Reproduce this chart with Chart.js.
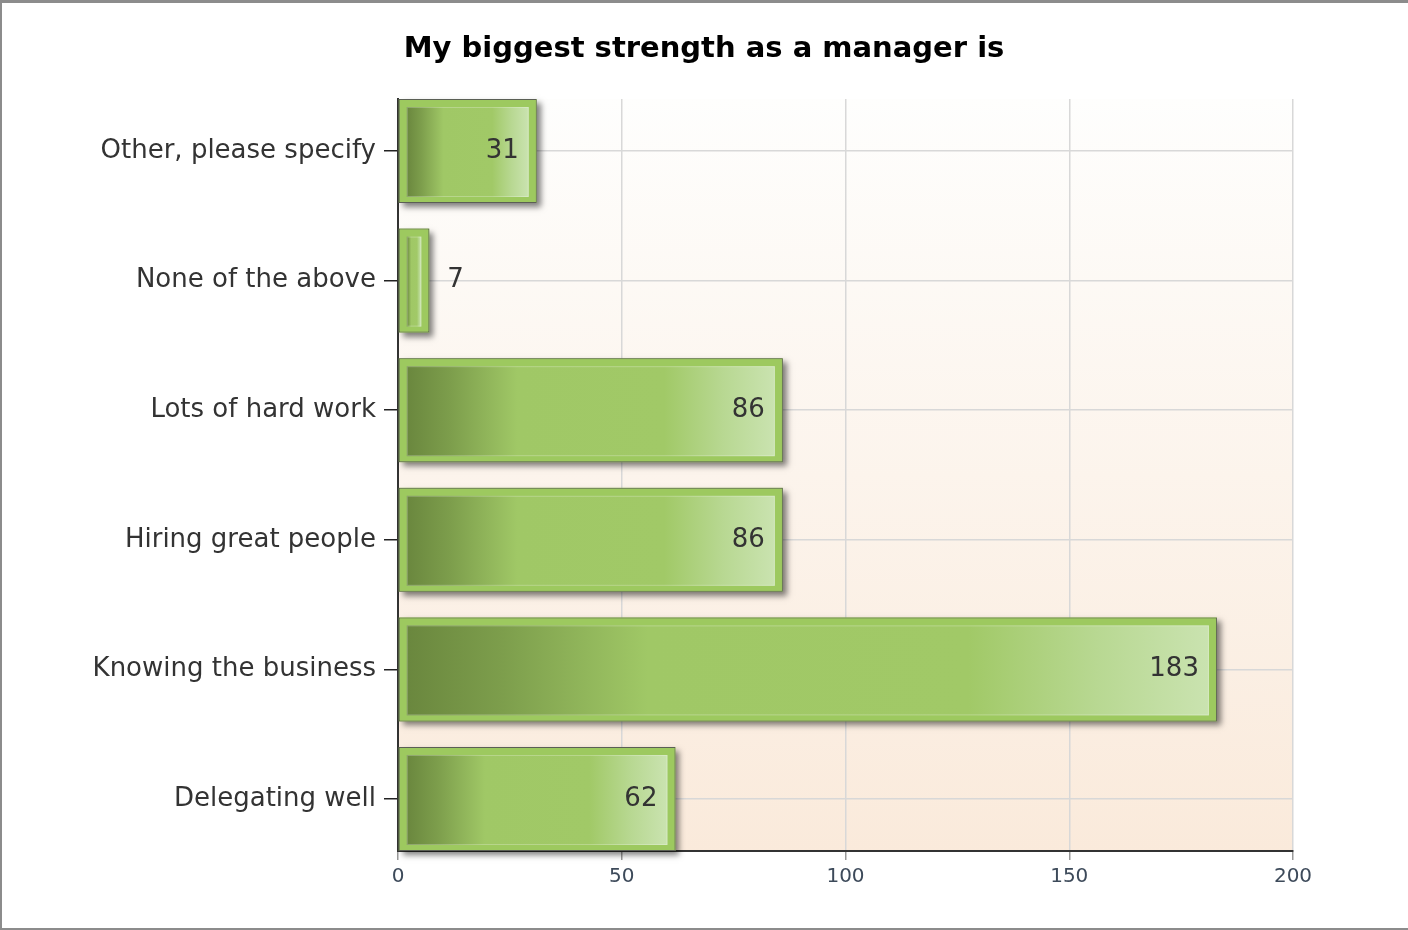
<!DOCTYPE html>
<html>
<head>
<meta charset="utf-8">
<script src="https://cdn.jsdelivr.net/npm/chart.js@4.4.0/dist/chart.umd.min.js"></script>
<style>
  body { margin: 0; background: #fff; }
  #wrap { position: relative; width: 1408px; height: 930px; }
  #frame { position: absolute; left: 0; top: 0; width: 1406px; height: 925px;
    border-top: 3px solid #8c8c8c; border-left: 2px solid #8c8c8c; border-bottom: 2px solid #8c8c8c;
    pointer-events: none; }
</style>
</head>
<body>
<div id="wrap">
  <canvas id="chart-canvas" width="1408" height="930"></canvas>
  <div id="frame"></div>
</div>
<script>
const chartTitle = "My biggest strength as a manager is";
const categories = ["Other, please specify", "None of the above", "Lots of hard work", "Hiring great people", "Knowing the business", "Delegating well"];
const answers = [31, 7, 86, 86, 183, 62];
const xTicks = [0, 50, 100, 150, 200];

const fontFamily = "'DejaVu Sans', Verdana, sans-serif";

// peach background behind the plot
const plotBackground = {
  id: "plotBackground",
  beforeDraw: (chart) => {
    const {ctx, chartArea: a} = chart;
    const grad = ctx.createLinearGradient(0, a.top, 0, a.bottom);
    grad.addColorStop(0, "#fefefd");
    grad.addColorStop(1, "#faeadb");
    ctx.save();
    ctx.fillStyle = grad;
    ctx.fillRect(a.left, a.top, a.right - a.left, a.bottom - a.top);
    ctx.restore();
  }
};

// drop shadow under the bars, inner gradient and value labels on top
const barDecor = {
  id: "barDecor",
  beforeDatasetDraw: (chart, args) => {
    const ctx = chart.ctx;
    ctx.save();
    ctx.shadowColor = "rgba(0,0,0,0.5)";
    ctx.shadowBlur = 6;
    ctx.shadowOffsetX = 4;
    ctx.shadowOffsetY = 4;
    ctx.fillStyle = "#9dc95f";
    args.meta.data.forEach(bar => {
      const p = bar.getProps(["x", "y", "base", "height"], true);
      ctx.fillRect(p.base, p.y - p.height / 2, p.x - p.base, p.height);
    });
    ctx.restore();
  },
  afterDatasetDraw: (chart, args) => {
    const ctx = chart.ctx;
    ctx.save();
    args.meta.data.forEach((bar, i) => {
      const p = bar.getProps(["x", "y", "base", "height"], true);
      const left = p.base + 8;
      const right = p.x - 8;
      const top = p.y - p.height / 2 + 8;
      const bottom = p.y + p.height / 2 - 6;
      if (right > left) {
        const grad = ctx.createLinearGradient(left, 0, right, 0);
        grad.addColorStop(0, "#6a873e");
        grad.addColorStop(0.12, "#7d9e4c");
        grad.addColorStop(0.3, "#a0c866");
        grad.addColorStop(0.7, "#a1c967");
        grad.addColorStop(0.86, "#b8d892");
        grad.addColorStop(1, "#cae3b0");
        ctx.fillStyle = grad;
        ctx.fillRect(left, top, right - left, bottom - top);
        ctx.strokeStyle = "rgba(255,255,255,0.25)";
        ctx.lineWidth = 1;
        ctx.strokeRect(left + 0.5, top + 0.5, right - left - 1, bottom - top - 1);
      }
      // value label
      const text = String(answers[i]);
      ctx.font = "26px " + fontFamily;
      ctx.fillStyle = "#333";
      ctx.textBaseline = "middle";
      const w = ctx.measureText(text).width;
      if (p.x - p.base > w + 40) {
        ctx.textAlign = "right";
        ctx.fillText(text, p.x - 18, p.y);
      } else {
        ctx.textAlign = "left";
        ctx.fillText(text, p.x + 18, p.y);
      }
    });
    ctx.restore();
  }
};

const context = document.getElementById("chart-canvas").getContext("2d");
const makeChart = new Chart(context, {
  type: "bar",
  data: {
    labels: categories,
    datasets: [{
      data: answers,
      backgroundColor: "#9dc95f",
      borderColor: "#5b5f55",
      borderWidth: 1,
      borderSkipped: false,
      barPercentage: 0.8025,
      categoryPercentage: 1
    }]
  },
  options: {
    indexAxis: "y",
    responsive: false,
    animation: false,
    layout: { padding: 0 },
    plugins: {
      legend: { display: false },
      tooltip: { enabled: false },
      title: {
        display: true,
        text: chartTitle,
        color: "#000",
        font: { family: fontFamily, size: 29, weight: "bold" },
        padding: { top: 31.6, bottom: 32.6 }
      }
    },
    scales: {
      x: {
        min: xTicks[0],
        max: xTicks[xTicks.length - 1],
        afterBuildTicks: (scale) => { scale.ticks = xTicks.map(v => ({value: v})); },
        afterFit: (scale) => { scale.height = 79; },
        grid: { color: "#d8d8d8", lineWidth: 1.5, tickColor: "#999", tickLength: 9 },
        border: { color: "#333", width: 2 },
        ticks: { color: "#3d4a5a", padding: 5, font: { family: fontFamily, size: 20 } }
      },
      y: {
        offset: false,
        // first and last bar touch the top and bottom of the plot
        afterBuildTicks: (scale) => { scale._startValue = -0.4012; scale._valueRange = 5.8025; },
        afterFit: (scale) => { scale.width = 398; },
        grid: { offset: false, color: "#d8d8d8", lineWidth: 1.5, tickColor: "#222", tickLength: 14 },
        border: { color: "#333", width: 2 },
        ticks: { color: "#333", padding: 8, font: { family: fontFamily, size: 26 } }
      },
      // empty right margin so the title centres on the whole page
      yRight: {
        position: "right",
        afterFit: (scale) => { scale.width = 115; },
        grid: { display: false },
        border: { display: false },
        ticks: { display: false }
      }
    }
  },
  plugins: [plotBackground, barDecor]
});
</script>
</body>
</html>
